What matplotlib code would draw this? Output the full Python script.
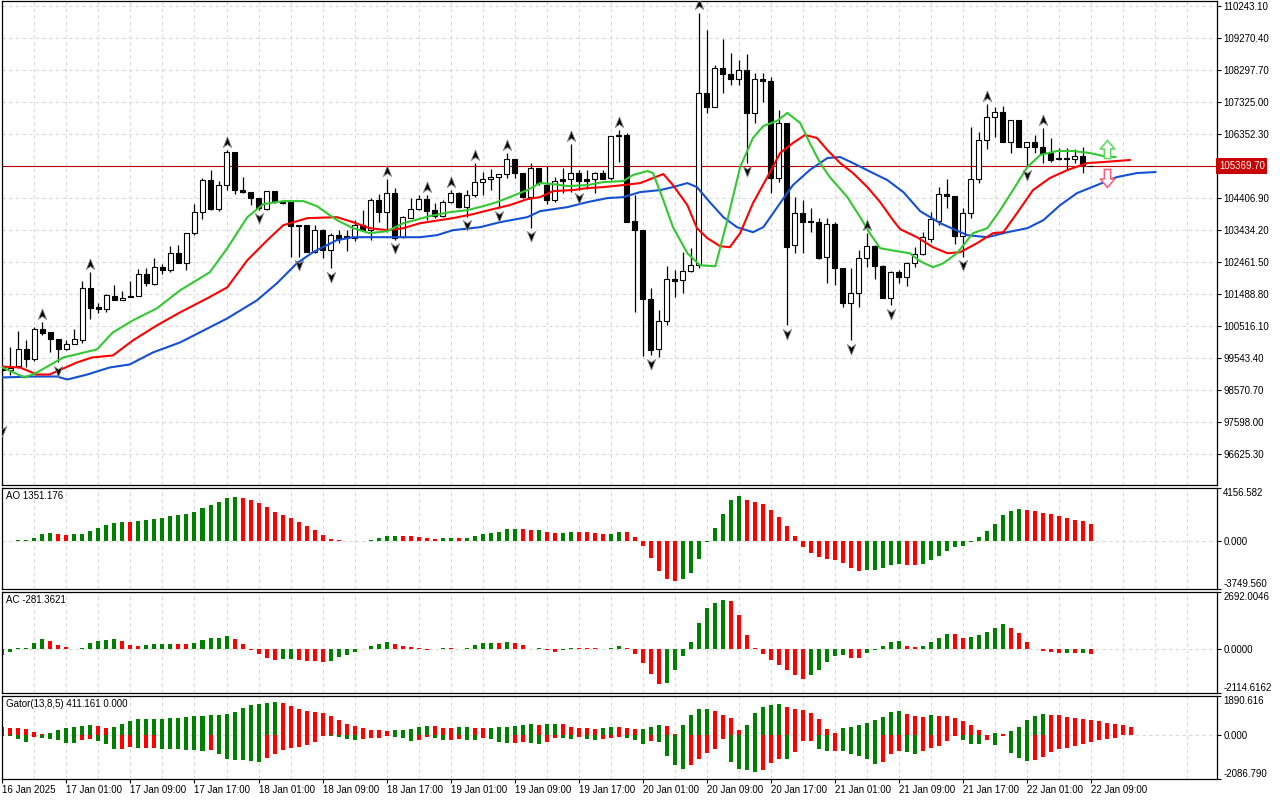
import matplotlib
matplotlib.use("Agg")
import matplotlib.pyplot as plt
from matplotlib.path import Path
from matplotlib.transforms import blended_transform_factory

plt.rcParams['font.family'] = ['Liberation Sans', 'DejaVu Sans']

# ---------------- data (H1 bars from 16 Jan 17:00) ----------------
opens = [99276, 99154, 99276, 99794, 99489, 100403, 100312, 100098, 99794, 99946,
         100068, 101652, 101073, 101012, 101408, 101286, 101408, 101408, 102079, 101774,
         102292, 102200, 102719, 102414, 103328, 103967, 104942, 104059, 104790, 105795,
         104638, 104577, 104394, 104059, 104607, 104272, 104272, 103571, 103571, 102749,
         103419, 102810, 103267, 103237, 103176, 103571, 103419, 104333, 103967, 104546,
         103206, 103785, 104059, 104363, 104028, 103846, 104272, 104546, 104120, 104485,
         104881, 104973, 105034, 105125, 105582, 105156, 104424, 105308, 104790, 104333,
         104973, 104973, 105156, 104973, 104973, 105156, 105003, 106313, 106313, 103693,
         103419, 101317, 99794, 100647, 101926, 101896, 102170, 102353, 107593, 107166,
         108354, 108172, 108019, 108293, 106984, 108019, 107958, 105003, 106679, 102962,
         103937, 103693, 103663, 102597, 103602, 102261, 101195, 101500, 102566, 102932,
         102322, 101347, 102139, 101987, 102414, 102688, 103145, 103693, 104516, 104455,
         103237, 103937, 104973, 106161, 106862, 107014, 106100, 106770, 105948, 106100,
         105948, 105765, 105613, 105613, 105582, 105673, 105370]
highs = [99306, 99855, 100342, 100068, 100464, 100616, 100312, 100098, 100068, 100403,
         101865, 102139, 101195, 101469, 101743, 101561, 101865, 102231, 102261, 102566,
         102383, 102932, 102962, 103328, 104211, 105003, 105247, 104912, 105856, 105795,
         105034, 104577, 104394, 104607, 104607, 104303, 104272, 103571, 103571, 103571,
         103450, 103328, 103419, 103419, 103724, 104028, 104394, 104516, 104973, 104699,
         103846, 104394, 104485, 104485, 104242, 104333, 104638, 104577, 104638, 105460,
         105186, 105278, 105125, 105765, 105582, 105156, 105460, 105308, 105369, 105034,
         105308, 106039, 105247, 105247, 105186, 105247, 106283, 106466, 106375, 104485,
         103419, 101652, 100982, 102322, 102200, 102749, 102871, 110030, 109512, 108446,
         109238, 108811, 108598, 108781, 108202, 108202, 108080, 107075, 106679, 104424,
         104333, 104089, 103785, 103785, 103663, 102261, 102261, 102810, 103328, 102962,
         102353, 102170, 102200, 102444, 102901, 103358, 103967, 104729, 104973, 104455,
         104089, 106557, 106405, 107258, 107166, 107197, 106770, 106770, 106100, 106313,
         106527, 106222, 105917, 105917, 105887, 105948, 105380]
lows = [97570, 99002, 99215, 99245, 99428, 100220, 99702, 99398, 99763, 99946,
        99977, 100708, 100890, 100921, 101286, 101286, 101378, 101408, 101713, 101743,
        102079, 102139, 102414, 102200, 103267, 103754, 104028, 103998, 104638, 104516,
        104546, 104181, 104028, 104028, 104242, 104211, 102597, 102597, 102749, 102719,
        102566, 102261, 103023, 102780, 103084, 103419, 103115, 103663, 103358, 103115,
        103176, 103785, 104028, 103724, 103785, 103815, 104242, 104089, 103815, 104424,
        104485, 104638, 104089, 105003, 105003, 104394, 103480, 104790, 104211, 104272,
        104546, 104577, 104638, 104668, 104546, 104973, 104942, 105491, 103663, 100921,
        99580, 99611, 99550, 100525, 101378, 101500, 102139, 102261, 106984, 107166,
        107593, 107836, 107836, 105460, 106679, 107319, 104546, 104881, 100525, 102719,
        102719, 103358, 102536, 101804, 101743, 101073, 100068, 101073, 102292, 101926,
        101347, 101134, 101804, 101713, 102292, 102658, 103054, 103571, 104089, 102993,
        102597, 103785, 104851, 105887, 106253, 106100, 105765, 105948, 105338, 105765,
        105460, 105491, 105552, 105247, 105460, 105156, 105360]
closes = [99184, 99215, 99794, 99489, 100403, 100281, 100098, 99794, 99946, 100098,
          101652, 101043, 101012, 101439, 101286, 101347, 101378, 102079, 101804, 102292,
          102200, 102719, 102414, 103328, 103967, 104942, 104059, 104790, 105795, 104638,
          104577, 104394, 104089, 104607, 104272, 104242, 103541, 103541, 102749, 103419,
          102810, 103267, 103145, 103176, 103571, 103419, 104333, 103967, 104546, 103176,
          103815, 104059, 104363, 103998, 103846, 104272, 104546, 104120, 104485, 104881,
          104973, 105034, 105125, 105582, 105156, 104424, 105308, 104851, 104333, 104912,
          104912, 105156, 104912, 104912, 105156, 104973, 106283, 106283, 103663, 103419,
          101317, 99763, 100647, 101926, 101865, 102170, 102353, 107593, 107166, 108354,
          108172, 108019, 108293, 106984, 108019, 107958, 105003, 106679, 102901, 103937,
          103663, 103663, 102566, 103602, 102261, 101195, 101500, 102566, 102932, 102322,
          101347, 102139, 101987, 102414, 102688, 103206, 103754, 104516, 104455, 103237,
          103937, 104973, 106161, 106862, 107014, 106100, 106770, 105948, 106100, 105948,
          105765, 105552, 105582, 105582, 105673, 105400, 105370]

# Alligator lines (bar position, price)
jaw_x = [-0.3, 3.8, 6.8, 8.1, 10.6, 13.4, 15.9, 18.8, 22.2, 28.1, 31.8, 34.3, 36.8, 38.8,
         41.8, 43.8, 48.1, 52.2, 54.3, 56.3, 59.7, 62.2, 65.6, 67.2, 70.6, 73.1, 75.6, 77.6,
         79.7, 82.2, 83.8, 85.6, 86.8, 88.4, 90.1, 91.8, 93.8, 95.1, 97.2, 98.8, 100.9, 103.1,
         104.7, 106.3, 108.8, 110.6, 112.6, 114.7, 117.2, 120.6, 123.1, 125.6, 128.1, 130.1,
         132.2, 134.3, 136.8, 139.3, 141.8, 144.1]
jaw_y = [98941, 98971, 98971, 98880, 99032, 99245, 99337, 99702, 100007, 100738, 101286,
         101804, 102414, 102749, 103115, 103206, 103206, 103206, 103267, 103419, 103511,
         103663, 103815, 103998, 104120, 104272, 104394, 104424, 104577, 104638, 104729,
         104851, 104729, 104272, 103815, 103511, 103358, 103511, 104242, 104790, 105247,
         105613, 105643, 105460, 105156, 104942, 104577, 103998, 103632, 103267, 103206,
         103358, 103480, 103724, 104181, 104546, 104790, 105034, 105156, 105186]
teeth_x = [-0.3, 2.2, 4.3, 5.9, 9.3, 11.2, 13.8, 16.3, 19.3, 22.2, 25.6, 28.1, 30.6, 33.1,
           35.1, 38.1, 41.8, 43.8, 45.9, 48.1, 50.1, 52.2, 56.3, 58.8, 61.3, 63.4, 65.6, 67.2,
           68.8, 71.3, 73.1, 75.1, 77.6, 79.7, 81.3, 82.6, 83.8, 85.6, 86.8, 88.1, 89.7, 90.9,
           92.2, 93.8, 95.6, 97.2, 98.8, 100.3, 101.8, 103.1, 104.7, 106.3, 108.1, 109.7,
           111.3, 112.2, 114.3, 116.3, 118.1, 119.7, 121.8, 123.8, 125.1, 126.8, 128.8, 130.9,
           133.1, 135.6, 137.6, 140.9]
teeth_y = [99276, 99245, 99032, 99032, 99398, 99550, 99611, 100068, 100525, 100921, 101347,
           101682, 102505, 103115, 103571, 103785, 103815, 103663, 103480, 103419, 103480,
           103632, 103785, 103906, 104059, 104181, 104363, 104424, 104607, 104638, 104699,
           104729, 104790, 104851, 105003, 105125, 104790, 104181, 103480, 103176, 102932,
           102901, 103328, 104242, 105034, 105765, 106070, 106313, 106222, 105856, 105460,
           105156, 104729, 104272, 103724, 103450, 103206, 102901, 102719, 102749, 103023,
           103328, 103358, 103937, 104638, 105003, 105247, 105460, 105491, 105552]
lips_x = [-0.3, 2.8, 4.3, 7.6, 11.8, 13.8, 16.3, 19.3, 22.2, 25.9, 28.1, 30.6, 32.6, 35.1,
          37.6, 39.3, 41.8, 43.8, 45.9, 48.1, 50.1, 53.4, 55.9, 58.1, 60.1, 61.8, 63.4, 65.6,
          67.2, 68.8, 70.6, 73.1, 75.1, 77.6, 78.8, 80.6, 81.3, 82.6, 83.8, 85.6, 87.2, 89.1,
          90.6, 92.2, 93.8, 95.1, 96.8, 98.1, 99.7, 100.9, 102.2, 103.4, 105.6, 107.2, 108.4,
          109.7, 111.8, 113.4, 114.7, 116.3, 117.6, 119.3, 121.3, 123.1, 124.7, 126.3, 128.1,
          129.7, 131.8, 133.8, 135.9, 137.6, 139.1]
lips_y = [99276, 98941, 99093, 99550, 99794, 100312, 100677, 101043, 101591, 102139, 102871,
          103815, 104211, 104303, 104303, 104150, 103724, 103480, 103328, 103389, 103632,
          103846, 103967, 104028, 104150, 104272, 104424, 104638, 104851, 104820, 104760,
          104790, 104881, 104912, 105095, 105217, 105156, 104333, 103511, 102719, 102353,
          102322, 103724, 105338, 106222, 106587, 106740, 106984, 106679, 106070, 105460,
          105034, 104424, 103815, 103328, 102871, 102780, 102719, 102475, 102292, 102414,
          102719, 103328, 103480, 104028, 104638, 105338, 105704, 105826, 105826, 105765,
          105673, 105643]

up_fractals = [5, 11, 28, 48, 53, 56, 59, 63, 71, 77, 87, 108, 123, 130]
down_fractals = [0, 7, 32, 37, 41, 49, 58, 62, 66, 72, 81, 93, 98, 106, 111, 120, 128]

signal_bar = 138
signal_up_price = 105900
signal_down_price = 105000
last_price = 105369.70

ao = [8, 26, 52, 104, 235, 548, 626, 548, 470, 548,
      560, 809, 1018, 1253, 1409, 1488, 1480, 1592, 1644, 1723,
      1827, 1958, 2036, 2140, 2297, 2584, 2819, 3054, 3367, 3445,
      3341, 3210, 3002, 2662, 2297, 2036, 1801, 1514, 1175, 861,
      470, 157, 78, 13, 5, 10, 78, 235, 392, 400,
      390, 385, 313, 235, 157, 235, 240, 230, 238, 392,
      548, 626, 705, 940, 950, 940, 861, 887, 705, 626,
      632, 705, 700, 695, 626, 548, 555, 705, 700, 313,
      -392, -1331, -2349, -2975, -3132, -2975, -2506, -1409, -78, 1018,
      2114, 3210, 3524, 3210, 3054, 2897, 2427, 1879, 1175, 392,
      -470, -940, -1253, -1409, -1488, -1723, -2114, -2349, -2271, -2260,
      -2114, -1879, -1801, -1879, -1890, -1801, -1488, -1175, -783, -470,
      -392, -52, 313, 783, 1331, 2036, 2349, 2506, 2427, 2349,
      2192, 2114, 1958, 1801, 1644, 1566, 1351.176]
ac = [-288, -160, 32, 40, 256, 448, 352, 160, 64, -32,
      48, 256, 352, 400, 448, 352, 160, 144, 160, 208,
      216, 224, 216, 208, 256, 400, 496, 512, 592, 448,
      208, -64, -272, -464, -560, -512, -496, -560, -568, -608,
      -624, -608, -416, -320, -176, -32, 112, 208, 304, 208,
      112, 64, 16, -48, -40, 48, 8, 0, 48, 160,
      256, 264, 248, 304, 256, 160, 0, 16, -80, -176,
      -64, 48, 40, 32, 16, 0, 16, 112, 48, -256,
      -704, -1232, -1664, -1616, -1040, -368, 304, 1216, 1936, 2176,
      2320, 2272, 1600, 640, 48, -272, -560, -800, -1040, -1280,
      -1472, -1280, -1040, -656, -368, -320, -464, -472, -224, -48,
      112, 304, 352, 112, 64, 112, 304, 496, 688, 672,
      496, 544, 640, 784, 976, 1168, 976, 736, 304, -32,
      -128, -176, -224, -216, -224, -216, -281.3621]
gator_up = [395, 348, 340, 300, 158, 63, 111, 253, 348, 395,
            442, 490, 442, 379, 395, 537, 679, 774, 780, 786,
            792, 822, 828, 869, 916, 922, 964, 970, 1011, 1106,
            1296, 1438, 1485, 1533, 1580, 1533, 1390, 1248, 1153, 1106,
            1059, 916, 727, 537, 442, 348, 253, 245, 205, 253,
            261, 300, 395, 442, 435, 348, 340, 395, 403, 348,
            340, 348, 395, 411, 442, 490, 537, 490, 537, 545,
            537, 395, 348, 340, 332, 348, 395, 387, 348, 300,
            316, 395, 490, 442, 63, 490, 964, 1248, 1264, 1153,
            964, 822, 253, 490, 1059, 1343, 1438, 1485, 1343, 1248,
            1201, 1059, 774, 300, 111, 348, 395, 490, 585, 727,
            869, 1106, 1153, 1011, 916, 900, 964, 956, 916, 822,
            679, 490, 253, 16, 111, 63, 205, 395, 727, 916,
            1011, 1003, 964, 869, 822, 774, 727, 679, 585, 537,
            490, 411.161]
gator_down = [-24, -40, -174, -316, -79, -126, -174, -221, -363, -371,
              -221, -174, -269, -411, -648, -640, -553, -600, -593, -585,
              -648, -656, -664, -695, -703, -743, -695, -885, -1122, -1169,
              -1177, -1217, -1264, -1074, -885, -695, -600, -553, -458, -316,
              -32, -47, -79, -174, -221, -174, -126, -119, -32, -79,
              -126, -269, -221, -79, -126, -221, -213, -174, -221, -229,
              -126, -174, -316, -363, -356, -316, -363, -411, -316, -111,
              -126, -174, -79, -174, -221, -174, -126, -79, -126, -221,
              -411, -269, -316, -980, -1406, -1596, -1406, -1122, -837, -648,
              -174, -1264, -1596, -1643, -1738, -1643, -1311, -1122, -1130, -790,
              -269, -253, -648, -743, -735, -758, -885, -980, -1122, -1359,
              -1264, -885, -743, -790, -885, -743, -600, -506, -269, -32,
              -221, -411, -427, -221, -458, -16, -837, -1074, -1217, -1169,
              -1027, -790, -648, -600, -506, -411, -316, -221, -174, -126]

price_ticks = [96625.30, 97598.00, 98570.70, 99543.40, 100516.10, 101488.80, 102461.50,
               103434.20, 104406.90, 105379.60, 106352.30, 107325.00, 108297.70,
               109270.40, 110243.10]
ao_range = (-3749.560, 4156.582)
ac_range = (-2114.6162, 2692.0046)
gator_range = (-2086.790, 1890.616)
time_labels = ['16 Jan 2025', '17 Jan 01:00', '17 Jan 09:00', '17 Jan 17:00',
               '18 Jan 01:00', '18 Jan 09:00', '18 Jan 17:00', '19 Jan 01:00',
               '19 Jan 09:00', '19 Jan 17:00', '20 Jan 01:00', '20 Jan 09:00',
               '20 Jan 17:00', '21 Jan 01:00', '21 Jan 09:00', '21 Jan 17:00',
               '22 Jan 01:00', '22 Jan 09:00']

# ---------------- styling ----------------
GREEN = '#008000'
RED = '#ff0000'
GRID = '#d9d9d9'
DASH = (0, (3, 3))
XLIM = (-0.06, 151.8)

fig = plt.figure(figsize=(12.8, 8), dpi=100)
W = 1280.0
H = 800.0


def panel(top, bottom):
    return fig.add_axes([2 / W, 1 - bottom / H, 1215 / W, (bottom - top) / H])


ax = panel(1, 485)
ax_ao = panel(488, 589)
ax_ac = panel(592, 693)
ax_g = panel(696, 779)

for a in (ax, ax_ao, ax_ac, ax_g):
    a.set_xlim(*XLIM)
    a.set_facecolor('white')
    for s in a.spines.values():
        s.set_color('black')
        s.set_linewidth(0.9)
    a.set_xticks(range(4, 152, 4))
    a.tick_params(axis='x', length=0, labelbottom=False)
    a.grid(True, axis='x', color=GRID, linestyle=DASH, linewidth=0.8)
    a.set_axisbelow(True)
    a.yaxis.tick_right()
    a.tick_params(axis='y', direction='out', length=3, width=0.8, pad=1.5,
                  labelsize=7, left=False, right=True)

# ---- main price panel ----
n = len(opens)
for k in range(n):
    o, h, l, c = opens[k], highs[k], lows[k], closes[k]
    ax.vlines(k, l, h, color='black', linewidth=0.9, zorder=2)
    fc = 'white' if c >= o else 'black'
    ax.bar(k, abs(c - o), bottom=min(o, c), width=0.6, color=fc,
           edgecolor='black', linewidth=0.8, zorder=2.5)

ax.plot(jaw_x, jaw_y, color='#1450d2', linewidth=1.5, zorder=3)
ax.plot(teeth_x, teeth_y, color='#ff0000', linewidth=1.5, zorder=3)
ax.plot(lips_x, lips_y, color='#32c832', linewidth=1.5, zorder=3)

ax.axhline(last_price, color='#c00000', linewidth=0.8, zorder=1.5)

up_head = Path([(0, 1), (0.75, -0.9), (0, -0.35), (-0.75, -0.9), (0, 1)],
               [Path.MOVETO, Path.LINETO, Path.LINETO, Path.LINETO, Path.CLOSEPOLY])
down_head = Path([(0, -1), (0.75, 0.9), (0, 0.35), (-0.75, 0.9), (0, -1)],
                 [Path.MOVETO, Path.LINETO, Path.LINETO, Path.LINETO, Path.CLOSEPOLY])
ax.plot(up_fractals, [highs[k] + 250 for k in up_fractals], linestyle='none',
        marker=up_head, markersize=8, markerfacecolor='black',
        markeredgecolor='#8a8a8a', markeredgewidth=0.6, zorder=4)
ax.plot(down_fractals, [lows[k] - 250 for k in down_fractals], linestyle='none',
        marker=down_head, markersize=8, markerfacecolor='black',
        markeredgecolor='#8a8a8a', markeredgewidth=0.6, zorder=4)

block_up = Path([(-0.35, -1), (0.35, -1), (0.35, 0.05), (0.8, 0.05), (0, 1),
                 (-0.8, 0.05), (-0.35, 0.05), (-0.35, -1)],
                [Path.MOVETO] + [Path.LINETO] * 6 + [Path.CLOSEPOLY])
block_down = Path([(-0.35, 1), (0.35, 1), (0.35, -0.05), (0.8, -0.05), (0, -1),
                   (-0.8, -0.05), (-0.35, -0.05), (-0.35, 1)],
                  [Path.MOVETO] + [Path.LINETO] * 6 + [Path.CLOSEPOLY])
ax.plot([signal_bar], [signal_up_price], marker=block_up, markersize=13,
        markerfacecolor='white', markeredgecolor='#5ad85a', markeredgewidth=1.1, zorder=4)
ax.plot([signal_bar], [signal_down_price], marker=block_down, markersize=13,
        markerfacecolor='white', markeredgecolor='#ff5a78', markeredgewidth=1.1, zorder=4)

ax.set_ylim(95673, 110386)
ax.set_yticks(price_ticks)
# the level next to the last price is hidden behind the price box, as in the terminal
ax.set_yticklabels(['' if abs(v - last_price) < 500 else '%.2f' % v for v in price_ticks])
ax.grid(True, axis='y', color=GRID, linestyle=DASH, linewidth=0.8)

trans = blended_transform_factory(ax.transAxes, ax.transData)
ax.text(1.0015, last_price, '%.2f' % last_price, transform=trans, color='white',
        fontsize=7, ha='left', va='center', zorder=10, clip_on=False,
        bbox=dict(boxstyle='square,pad=0.28', facecolor='#c80000', edgecolor='none'))


# ---- indicator panels ----
def up_down_colors(vals, first, use_abs=False):
    v = [abs(x) for x in vals] if use_abs else list(vals)
    cols = [first]
    for a, b in zip(v[:-1], v[1:]):
        cols.append(GREEN if b > a else RED)
    return cols


def set_range(a, lo, hi, fmt):
    a.set_ylim(lo, hi)
    a.set_yticks([lo, 0, hi])
    a.set_yticklabels([fmt % lo, fmt % 0, fmt % hi])
    labels = a.get_yticklabels()
    labels[0].set_va('bottom')
    labels[2].set_va('top')
    a.axhline(0, color=GRID, linestyle=DASH, linewidth=0.8, zorder=0.5)


def title(a, text):
    a.annotate(text, xy=(0, 1), xycoords='axes fraction', xytext=(4, -8),
               textcoords='offset pixels', ha='left', va='center', fontsize=7)


ax_ao.bar(range(len(ao)), ao, width=0.5, color=up_down_colors(ao, GREEN), zorder=2)
set_range(ax_ao, ao_range[0], ao_range[1], '%.3f')
title(ax_ao, 'AO 1351.176')

ax_ac.bar(range(len(ac)), ac, width=0.5, color=up_down_colors(ac, RED), zorder=2)
set_range(ax_ac, ac_range[0], ac_range[1], '%.4f')
title(ax_ac, 'AC -281.3621')

ax_g.bar(range(len(gator_up)), gator_up, width=0.5,
         color=up_down_colors(gator_up, RED), zorder=2)
ax_g.bar(range(len(gator_down)), gator_down, width=0.5,
         color=up_down_colors(gator_down, RED, use_abs=True), zorder=2)
set_range(ax_g, gator_range[0], gator_range[1], '%.3f')
title(ax_g, 'Gator(13,8,5) 411.161 0.000')

# bottom time axis
tick_bars = list(range(0, 8 * len(time_labels), 8))
ax_g.set_xticks(tick_bars)
ax_g.set_xticklabels(time_labels)
ax_g.set_xticks(range(4, 152, 8), minor=True)
ax_g.tick_params(axis='x', which='major', length=3, width=0.8, direction='out',
                 labelbottom=True, labelsize=7, pad=1.5)
ax_g.tick_params(axis='x', which='minor', length=0)
ax_g.grid(True, axis='x', which='both', color=GRID, linestyle=DASH, linewidth=0.8)
for lab in ax_g.get_xticklabels():
    lab.set_ha('left')

fig.savefig('out.png', dpi=100, facecolor='white')
